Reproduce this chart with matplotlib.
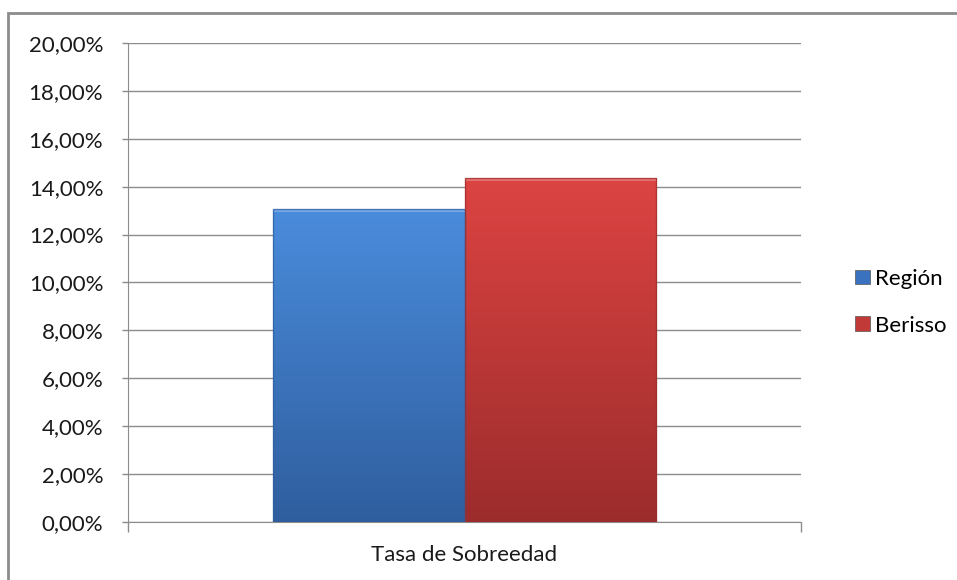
import numpy as np
import matplotlib.pyplot as plt
from matplotlib.patches import Rectangle
from matplotlib.colors import LinearSegmentedColormap
from matplotlib.ticker import FuncFormatter

plt.rcParams['font.family'] = ['Lato', 'DejaVu Sans']

categoria = "Tasa de Sobreedad"
series = ["Región", "Berisso"]
valores = [13.07, 14.36]   # porcentaje
colores_top = ["#4a8cdc", "#dc4442"]
colores_bot = ["#2f5e9e", "#9c2c2c"]
colores_leg = ["#3a72bf", "#c23a38"]

fig = plt.figure(figsize=(9.57, 5.8), dpi=100)
ax = fig.add_axes([0.1338, 0.1, 0.7032, 0.826])

# borde exterior del grafico
fig.patches.append(Rectangle((8 / 957, -0.05), 1.1, 1 - 13 / 580 + 0.05,
                             transform=fig.transFigure, fill=False,
                             edgecolor="#8c8c8c", linewidth=2))

ancho = 0.285
pos = [-ancho / 2, ancho / 2]
for i, (x, v) in enumerate(zip(pos, valores)):
    bar = ax.bar(x, v, width=ancho, color=colores_leg[i], edgecolor="none", zorder=3)[0]
    cmap = LinearSegmentedColormap.from_list("g", [colores_bot[i], colores_top[i]])
    grad = np.linspace(0, 1, 256).reshape(-1, 1)
    im = ax.imshow(grad, cmap=cmap, aspect="auto", origin="lower",
                   extent=[x - ancho / 2, x + ancho / 2, 0, v], zorder=4)
    im.set_clip_path(bar)
    # bisel superior y bordes
    ax.add_patch(Rectangle((x - ancho / 2, v - 0.12), ancho, 0.12,
                           facecolor="white", alpha=0.25, edgecolor="none", zorder=5))
    ax.add_patch(Rectangle((x - ancho / 2, 0), ancho, v, facecolor="none",
                           edgecolor=colores_bot[i], linewidth=1, alpha=0.7, zorder=6))

ax.set_xlim(-0.5, 0.5)
ax.set_ylim(0, 20)
ax.set_yticks(np.arange(0, 21, 2))
ax.yaxis.set_major_formatter(FuncFormatter(lambda y, p: f"{y:.2f}%".replace(".", ",")))
ax.grid(axis="y", color="#8c8c8c", linewidth=1)
ax.set_axisbelow(True)
ax.set_xticks([-0.5, 0.5])
ax.set_xticklabels(["", ""])
ax.tick_params(axis="x", length=7, color="#8c8c8c", width=1)
ax.tick_params(axis="y", length=4.3, color="#8c8c8c", width=1, labelsize=16, pad=13.5,
               labelcolor="#1a1a1a")
ax.text(0, -1.38, categoria, ha="center", va="center", fontsize=16, color="#1a1a1a")

for s in ["top", "right"]:
    ax.spines[s].set_visible(False)
for s in ["left", "bottom"]:
    ax.spines[s].set_color("#8c8c8c")

handles = [Rectangle((0, 0), 1, 1, facecolor=c, edgecolor="#555555", linewidth=0.5) for c in colores_leg]
fig.legend(handles, series, loc="center left", bbox_to_anchor=(0.873, 0.479),
           frameon=False, fontsize=16, handlelength=0.65, handleheight=0.65,
           handletextpad=0.25, labelspacing=1.2)

fig.savefig("out.png", dpi=100)
